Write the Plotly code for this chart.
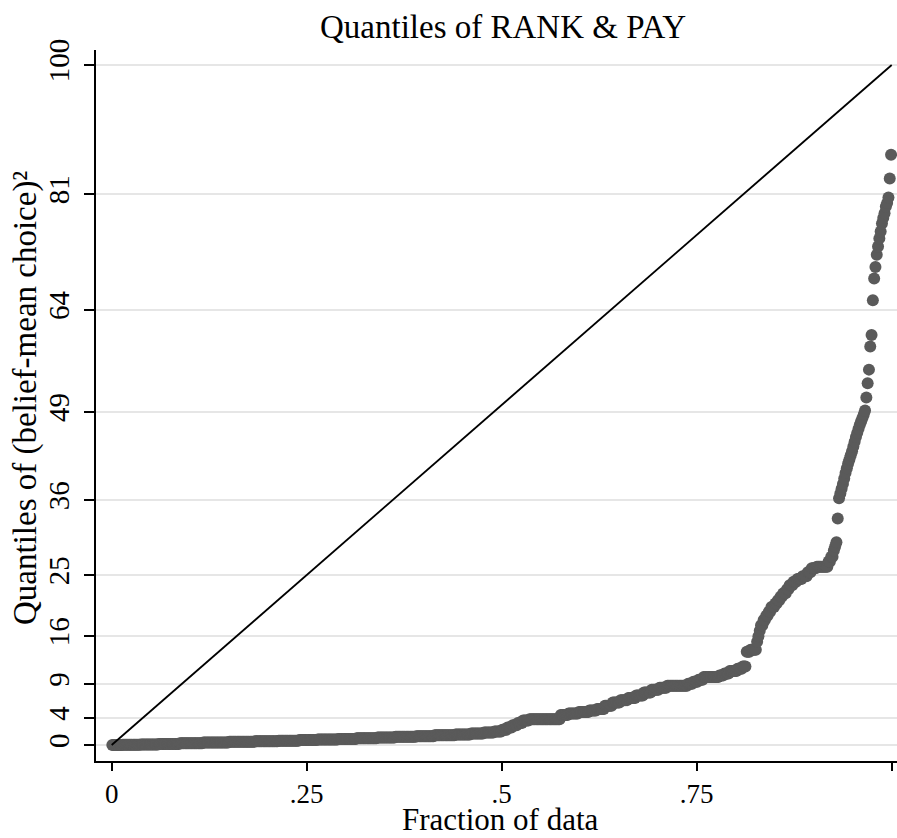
import numpy as np
import plotly.graph_objects as go

# Sorted sample of (belief - mean choice)^2 as a frequency table
levels = [
    0.00, 0.04, 0.09, 0.16, 0.25, 0.36, 0.49, 0.56, 0.64, 0.72, 0.81, 0.90,
    1.00, 1.10, 1.21, 1.30, 1.44, 1.56, 1.69, 1.85, 2.00,
    2.25, 2.56, 2.89, 3.24, 3.61, 3.80,
    4.41, 4.62, 4.84, 5.06, 5.29, 5.76, 6.25, 6.60, 6.92, 7.29, 7.72, 8.12,
    8.41, 8.70, 9.00, 9.30, 9.61, 10.00, 10.24, 10.50, 10.89, 11.20, 11.56,
    13.70, 14.00, 15.20, 16.00, 16.80, 17.60, 18.40, 19.00, 19.60, 20.30,
    20.80, 21.30, 21.80, 22.30, 22.90, 23.50, 24.00, 24.40, 24.80, 25.40,
    26.00, 26.20, 27.00, 27.70, 28.60, 29.20, 29.80,
    33.3, 36.3, 37.0, 37.7, 38.4, 39.2, 40.0, 40.7, 41.4, 42.0, 42.6, 43.2,
    43.9, 44.6, 45.3, 45.9, 46.5, 47.1, 47.6, 48.1, 48.6, 49.2,
    51.1, 53.2, 55.2, 58.6, 60.3, 65.4, 68.6, 70.3, 72.1, 73.3, 74.5, 75.5,
    76.7, 77.5, 78.2, 79.2, 79.7, 80.5, 83.3, 86.8,
]
counts = [
    8, 14, 14, 16, 18, 20, 20, 18, 16, 14, 16, 14,
    16, 14, 16, 14, 16, 12, 10, 8, 6,
    4, 4, 4, 4, 5, 24,
    6, 8, 8, 6, 6, 6, 6, 6, 6, 6, 6, 6,
    6, 16, 4, 4, 4, 12, 4, 4, 6, 4, 3,
    3, 5, 1, 1, 1, 2, 2, 2, 2, 3,
    2, 2, 2, 3, 2, 3, 3, 4, 4, 3,
    4, 9, 2, 2, 1, 1, 1,
    1, 1, 1, 1, 1, 1, 1, 1, 1, 1, 1, 1,
    1, 1, 1, 1, 1, 1, 1, 1, 1, 1,
    1, 1, 1, 1, 1, 1, 1, 1, 1, 1, 1, 1,
    1, 1, 1, 1, 1, 1, 1, 1,
]

# Reference line of the plot
ref_x = [0, 1]
ref_y = [0, 100]

x_ticks = [0, 0.25, 0.5, 0.75, 1]
x_tick_text = ["0", ".25", ".5", ".75", "1"]
y_ticks = [0, 4, 9, 16, 25, 36, 49, 64, 81, 100]
y_tick_text = [str(v) for v in y_ticks]

values = np.repeat(levels, counts)
n = len(values)
fraction = (np.arange(1, n + 1) - 0.5) / n

FONT = "Liberation Serif"
W, H = 897, 838
ML, MR, MT, MB = 96, 0, 50, 77
PW, PH = W - ML - MR, H - MT - MB

fig = go.Figure()
fig.add_trace(go.Scatter(
    x=fraction, y=values, mode="markers",
    marker=dict(size=12, color="#5a5a5a", line=dict(width=0)),
    hoverinfo="skip", showlegend=False,
))
fig.add_trace(go.Scatter(
    x=ref_x, y=ref_y, mode="lines",
    line=dict(color="black", width=1.8),
    hoverinfo="skip", showlegend=False,
))

fig.update_layout(
    width=W, height=H,
    margin=dict(l=ML, r=MR, t=MT, b=MB, pad=0),
    paper_bgcolor="white", plot_bgcolor="white",
    font=dict(family=FONT, color="black", size=29),
    showlegend=False,
)
fig.update_xaxes(
    range=[-0.0201, 1.0068],
    tickvals=x_ticks, ticktext=x_tick_text,
    ticks="outside", ticklen=8, tickwidth=1.5, tickcolor="black",
    showline=True, linecolor="black", linewidth=1.5,
    showgrid=False, zeroline=False,
    tickfont=dict(family=FONT, size=27),
    ticklabelstandoff=0,
)
fig.update_yaxes(
    range=[-2.35, 102.2],
    tickvals=y_ticks, ticktext=y_tick_text, tickangle=-90,
    ticks="outside", ticklen=10, tickwidth=1.5, tickcolor="black",
    showline=True, linecolor="black", linewidth=1.5,
    showgrid=True, gridcolor="#e6e6e6", gridwidth=2,
    zeroline=False,
    tickfont=dict(family=FONT, size=29),
    ticklabelstandoff=4,
)

def px_to_paper_x(px):
    return (px - ML) / PW

def px_to_paper_y(py):
    return (H - MB - py) / PH

fig.add_annotation(
    text="Quantiles of RANK &amp; PAY",
    xref="paper", yref="paper",
    x=px_to_paper_x(503), y=px_to_paper_y(27),
    xanchor="center", yanchor="middle", showarrow=False,
    font=dict(family=FONT, size=33),
)
fig.add_annotation(
    text="Quantiles of (belief-mean choice)²",
    xref="paper", yref="paper",
    x=px_to_paper_x(25), y=px_to_paper_y(398),
    xanchor="center", yanchor="middle", textangle=-90, showarrow=False,
    font=dict(family=FONT, size=33),
)
fig.add_annotation(
    text="Fraction of data",
    xref="paper", yref="paper",
    x=px_to_paper_x(500), y=px_to_paper_y(839),
    xanchor="center", yanchor="bottom", showarrow=False,
    font=dict(family=FONT, size=31),
)

fig.write_html("out.html")
